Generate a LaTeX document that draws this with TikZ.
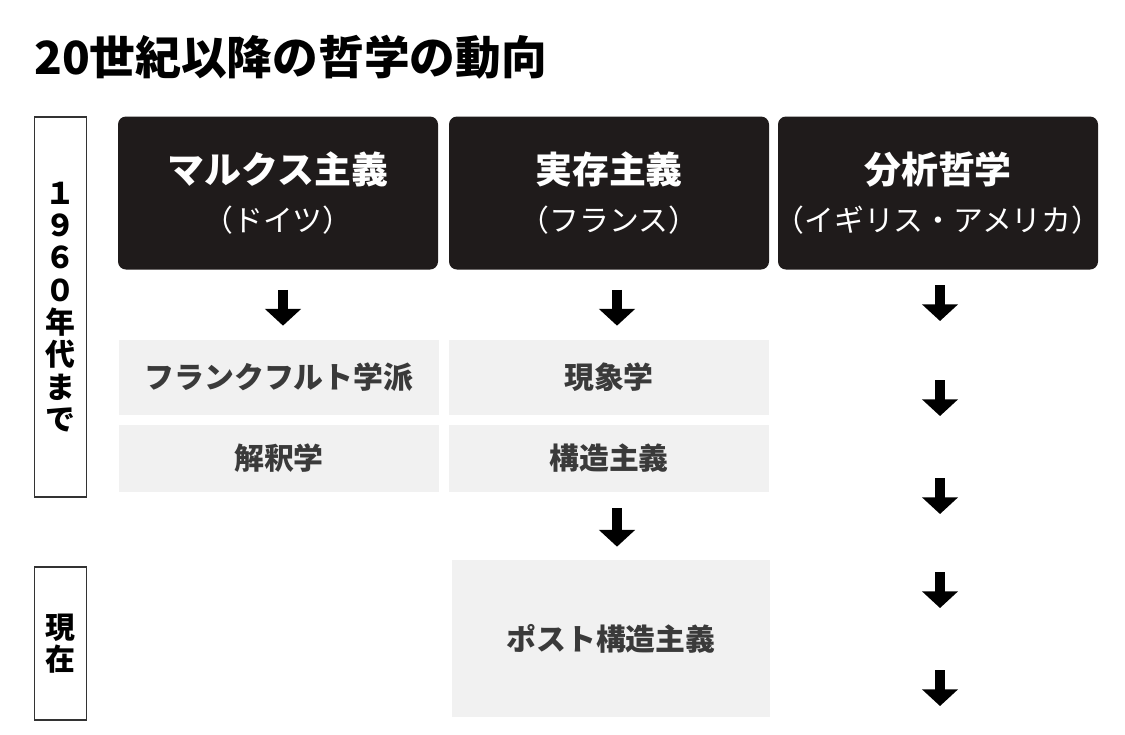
\documentclass[tikz,border=0pt]{standalone}
\usepackage{fontspec}
\setmainfont{Noto Sans CJK JP}
\usetikzlibrary{arrows.meta}
\definecolor{boxdark}{HTML}{1F1B1B}
\definecolor{boxlight}{HTML}{F1F1F1}
\definecolor{textgray}{HTML}{3A3A3A}
\newcommand{\headtext}[2]{{\fontsize{21}{25}\selectfont\bfseries #1}\\[10pt]{\fontsize{17}{20}\selectfont\makebox[6cm]{#2}}}
\tikzset{
  darkbox/.style={fill=boxdark, rounded corners=0.16cm, minimum width=6.4cm, minimum height=3.06cm, text=white, align=center, inner sep=0pt},
  lightbox/.style={fill=boxlight, minimum width=6.4cm, text=textgray, font=\fontsize{17}{20}\selectfont\bfseries, inner sep=0pt},
  erabox/.style={draw=black!80, line width=0.6pt, minimum width=1.05cm, align=center, inner sep=0pt, font=\fontsize{17}{18.4}\selectfont\bfseries},
  downarrow/.style={line width=5.6pt, -{Triangle[width=20pt,length=9.5pt]}}
}
\begin{document}
\begin{tikzpicture}
  \useasboundingbox[fill=white] (0,0) rectangle (22.5,-14.68);
  \node[anchor=west, font=\fontsize{26}{30}\selectfont\bfseries] (title) at (0.56,-1.14) {20世紀以降の哲学の動向};
  \node[erabox, minimum height=7.6cm] (era1) at (1.21,-6.14) {１\\９\\６\\０\\年\\代\\ま\\で};
  \node[erabox, minimum height=3.06cm] (era2) at (1.21,-12.87) {現\\在};
  \node[darkbox] (marx) at (5.56,-3.86) {\headtext{マルクス主義}{（ドイツ）}};
  \node[darkbox] (exist) at (12.18,-3.86) {\headtext{実存主義}{（フランス）}};
  \node[darkbox] (anal) at (18.76,-3.86) {\headtext{分析哲学}{（イギリス・アメリカ）}};
  \node[lightbox, minimum height=1.5cm] (frank) at (5.58,-7.55) {フランクフルト学派};
  \node[lightbox, minimum height=1.34cm] (herm) at (5.58,-9.17) {解釈学};
  \node[lightbox, minimum height=1.5cm] (phen) at (12.18,-7.55) {現象学};
  \node[lightbox, minimum height=1.34cm] (struct) at (12.18,-9.17) {構造主義};
  \node[lightbox, minimum width=6.36cm, minimum height=3.14cm] (post) at (12.22,-12.77) {ポスト構造主義};
  \draw[downarrow] ([xshift=0.1cm,yshift=-0.4cm]marx.south) -- ([xshift=0.08cm,yshift=0.28cm]frank.north);
  \draw[downarrow] ([xshift=0.16cm,yshift=-0.4cm]exist.south) -- ([xshift=0.16cm,yshift=0.28cm]phen.north);
  \draw[downarrow] ([xshift=0.16cm,yshift=-0.32cm]struct.south) -- ([xshift=0.12cm,yshift=0.26cm]post.north);
  \foreach \i/\y in {1/5.7,2/7.6,3/9.56,4/11.44,5/13.4}{
    \coordinate (s\i) at (18.8,-\y);
    \coordinate (e\i) at (18.8,-\y-0.72);
    \draw[downarrow] (s\i) -- (e\i);
  }
\end{tikzpicture}
\end{document}
